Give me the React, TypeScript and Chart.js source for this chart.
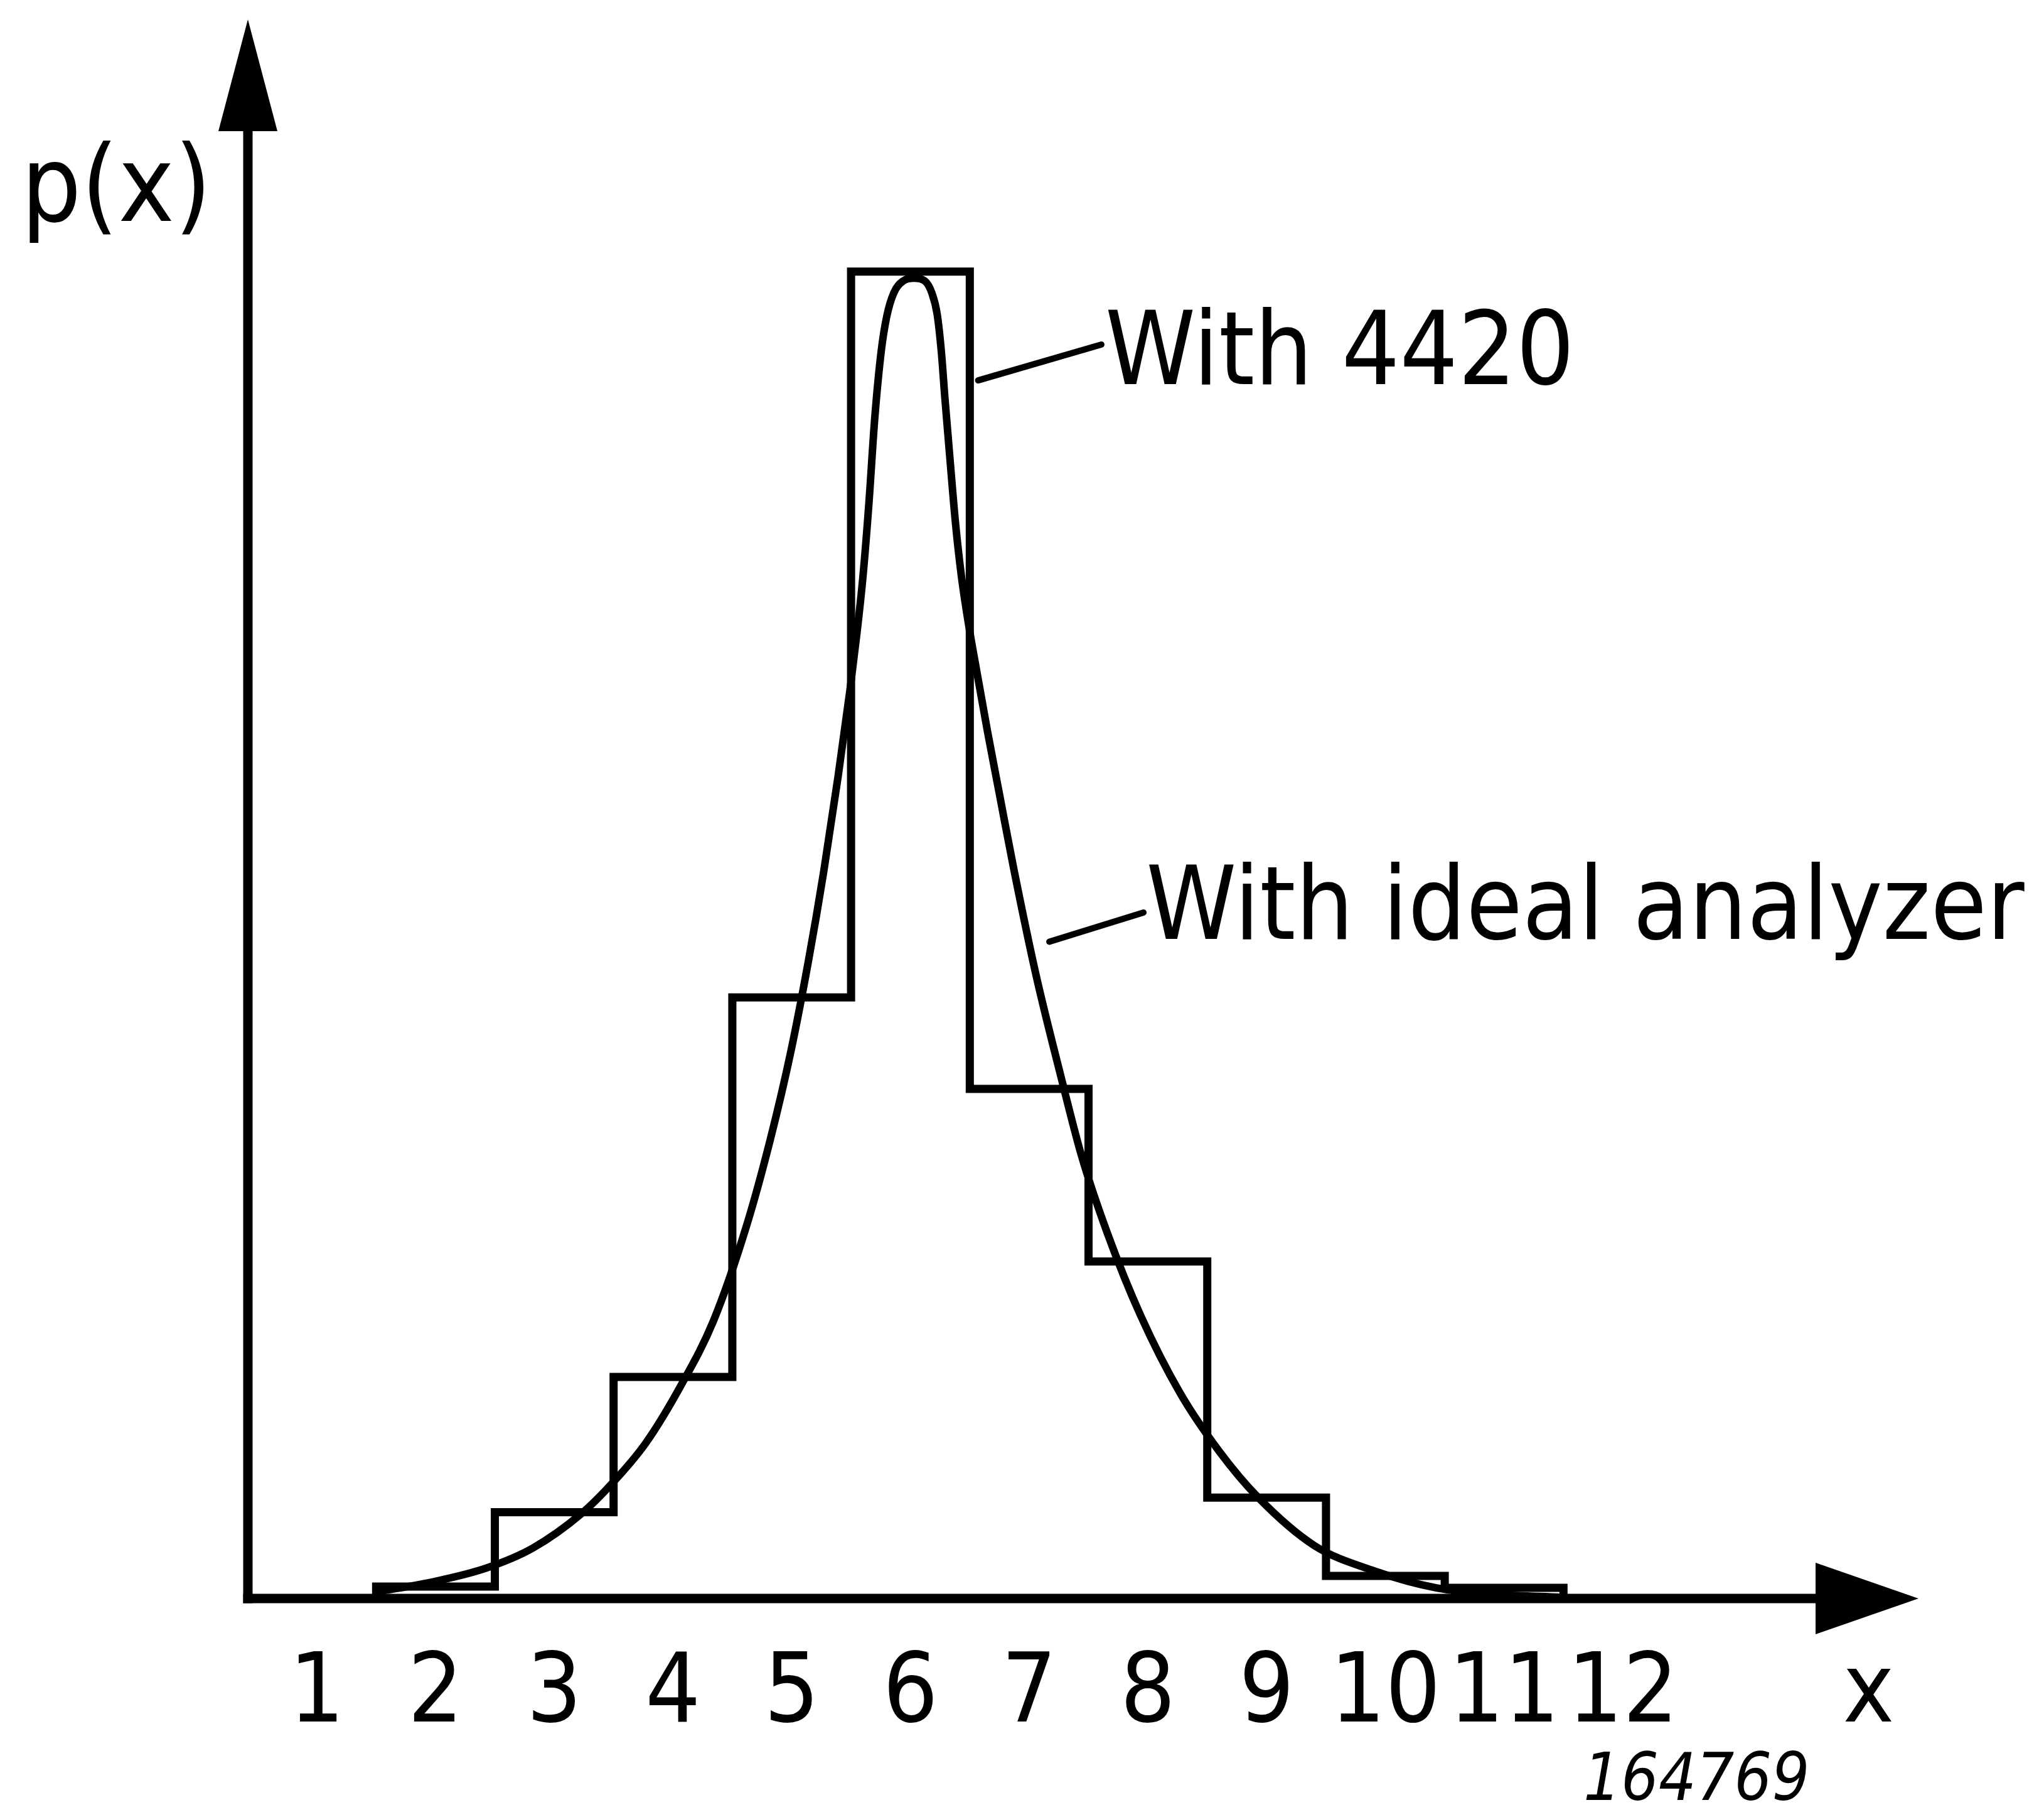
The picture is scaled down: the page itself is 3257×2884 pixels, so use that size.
import { useEffect, useRef } from 'react';
import { Chart, registerables } from 'chart.js';

Chart.register(...registerables);

// ---------- data ----------
// histogram ("With 4420"): bin edges and bin heights (relative units, tallest bin = 100)
const binEdges = [1.5, 2.5, 3.5, 4.5, 5.5, 6.5, 7.5, 8.5, 9.5, 10.5, 11.5];
const binValues = [0.9, 6.5, 16.7, 45.3, 100, 38.4, 25.4, 7.6, 1.7, 0.8];

// smooth curve ("With ideal analyzer")
const curveX = [1.5, 2.0, 2.43, 2.82, 3.23, 3.49, 3.77, 4.07, 4.34, 4.62, 4.82, 4.99, 5.14, 5.27, 5.39, 5.49, 5.55, 5.6, 5.65, 5.7, 5.754, 5.8, 5.86, 5.94, 6.03, 6.12, 6.18, 6.225, 6.26, 6.29, 6.33, 6.38, 6.43, 6.49, 6.56, 6.65, 6.75, 6.87, 7.06, 7.26, 7.44, 7.66, 7.94, 8.27, 8.6, 8.93, 9.4, 9.9, 10.43, 10.96, 11.47];
const curveY = [0.5, 1.3, 2.3, 3.8, 6.4, 8.7, 11.7, 16.1, 20.9, 28.1, 34.6, 41.1, 48.0, 54.8, 61.9, 68.4, 72.8, 77.0, 82.5, 89.0, 94.0, 96.6, 98.4, 99.3, 99.5, 99.3, 98.4, 96.8, 94.0, 90.5, 86.2, 81.0, 77.0, 73.4, 69.8, 65.3, 60.6, 55.0, 46.9, 39.6, 33.4, 27.5, 21.3, 15.5, 11.1, 7.6, 4.0, 2.1, 0.8, 0.3, 0.1];

// tick labels
const tickValues = [1, 2, 3, 4, 5, 6, 7, 8, 9, 10, 11, 12];
const xAxisName = 'x';
const yAxisName = 'p(x)';
const labelTexts = ['With 4420', 'With ideal analyzer'];
const figureNumber = '164769';

// ---------- layout (not data) ----------
const W = 3257;
const H = 2884;
const X_MIN = 0.42;
const X_MAX = 14.49;
const Y_MAX = 119;
const X_NAME_POS = 14.07;
const FONT = "'DejaVu Sans Condensed', 'DejaVu Sans', sans-serif";

const labelAnchors = [[7.64, 91.5], [7.985, 49.7]];
const leaderFrom = [[6.57, 91.8], [7.17, 49.5]];
const leaderTo = [[7.608, 94.5], [7.963, 51.7]];
const yNameAnchor = [-1.49, 103.8];
const figNumAnchor = [12.62, -15.2];

const AXIS_W = 15;
const HIST_W = 13;
const CURVE_W = 12;
const LEADER_W = 10;
const Y_ARROW_LEN = 178;
const Y_ARROW_HALF = 47;
const X_ARROW_LEN = 164;
const X_ARROW_HALF = 57;

const decor = {
  id: 'decor',
  beforeDatasetsDraw(chart: any) {
    const { ctx, chartArea: a, scales } = chart;
    const y = scales.y;
    const ox = a.left;
    const oy = y.getPixelForValue(0);
    ctx.save();
    ctx.strokeStyle = '#000';
    ctx.fillStyle = '#000';
    ctx.lineWidth = AXIS_W;
    ctx.lineCap = 'butt';
    ctx.beginPath();
    ctx.moveTo(ox, oy + AXIS_W / 2);
    ctx.lineTo(ox, a.top + Y_ARROW_LEN - 2);
    ctx.stroke();
    ctx.beginPath();
    ctx.moveTo(ox - AXIS_W / 2, oy);
    ctx.lineTo(a.right - X_ARROW_LEN + 2, oy);
    ctx.stroke();
    // arrow heads
    ctx.beginPath();
    ctx.moveTo(ox, a.top);
    ctx.lineTo(ox - Y_ARROW_HALF, a.top + Y_ARROW_LEN);
    ctx.lineTo(ox + Y_ARROW_HALF, a.top + Y_ARROW_LEN);
    ctx.closePath();
    ctx.fill();
    ctx.beginPath();
    ctx.moveTo(a.right, oy);
    ctx.lineTo(a.right - X_ARROW_LEN, oy - X_ARROW_HALF);
    ctx.lineTo(a.right - X_ARROW_LEN, oy + X_ARROW_HALF);
    ctx.closePath();
    ctx.fill();
    ctx.restore();
  },
  afterDatasetsDraw(chart: any) {
    const { ctx, scales } = chart;
    const x = scales.x;
    const y = scales.y;
    const px = (v: number) => x.getPixelForValue(v);
    const py = (v: number) => y.getPixelForValue(v);
    ctx.save();
    ctx.strokeStyle = '#000';
    ctx.fillStyle = '#000';
    ctx.lineWidth = LEADER_W;
    ctx.lineCap = 'round';
    for (let i = 0; i < labelTexts.length; i++) {
      ctx.beginPath();
      ctx.moveTo(px(leaderFrom[i][0]), py(leaderFrom[i][1]));
      ctx.lineTo(px(leaderTo[i][0]), py(leaderTo[i][1]));
      ctx.stroke();
      ctx.font = `162px ${FONT}`;
      ctx.textAlign = 'left';
      ctx.textBaseline = 'alphabetic';
      ctx.fillText(labelTexts[i], px(labelAnchors[i][0]), py(labelAnchors[i][1]));
    }
    ctx.font = `168px ${FONT}`;
    ctx.textAlign = 'left';
    ctx.fillText(yAxisName, px(yNameAnchor[0]), py(yNameAnchor[1]));
    ctx.font = `italic 105px ${FONT}`;
    ctx.textAlign = 'center';
    ctx.fillText(figureNumber, px(figNumAnchor[0]), py(figNumAnchor[1]));
    ctx.restore();
  },
};

export default function App() {
  const ref = useRef<HTMLCanvasElement>(null);
  useEffect(() => {
    const histData: { x: number; y: number }[] = [{ x: binEdges[0], y: 0 }];
    binValues.forEach((v, i) => histData.push({ x: binEdges[i], y: v }));
    histData.push({ x: binEdges[binEdges.length - 1], y: 0 });
    const curveData = curveX.map((v, i) => ({ x: v, y: curveY[i] }));

    const chart = new Chart(ref.current!, {
      type: 'line',
      data: {
        datasets: [
          {
            label: labelTexts[0],
            data: histData,
            stepped: true,
            borderColor: '#000',
            borderWidth: HIST_W,
            borderJoinStyle: 'miter',
            pointRadius: 0,
            fill: false,
            clip: false,
          },
          {
            label: labelTexts[1],
            data: curveData,
            cubicInterpolationMode: 'monotone',
            borderColor: '#000',
            borderWidth: CURVE_W,
            pointRadius: 0,
            fill: false,
            clip: false,
          },
        ],
      },
      options: {
        animation: false,
        responsive: true,
        maintainAspectRatio: false,
        devicePixelRatio: 1,
        events: [],
        layout: { padding: { left: 395, right: W - 3057, top: 31, bottom: 2884 - 2547 - 260 } },
        plugins: { legend: { display: false }, tooltip: { enabled: false } },
        scales: {
          x: {
            type: 'linear',
            min: X_MIN,
            max: X_MAX,
            grid: { display: false },
            border: { display: false },
            afterBuildTicks: (scale: any) => {
              scale.ticks = tickValues.map((v) => ({ value: v })).concat([{ value: X_NAME_POS }]);
            },
            afterFit: (scale: any) => {
              scale.height = 260;
            },
            ticks: {
              autoSkip: false,
              maxRotation: 0,
              padding: 56,
              color: '#000',
              font: { family: FONT, size: 154 },
              callback: (v: any) => (v === X_NAME_POS ? xAxisName : String(v)),
            },
          },
          y: {
            type: 'linear',
            min: 0,
            max: Y_MAX,
            display: false,
          },
        },
      },
      plugins: [decor],
    } as any);
    return () => chart.destroy();
  }, []);
  return (
    <div style={{ position: 'fixed', left: 0, top: 0, width: W, height: H, background: '#fff' }}>
      <canvas ref={ref} />
    </div>
  );
}
